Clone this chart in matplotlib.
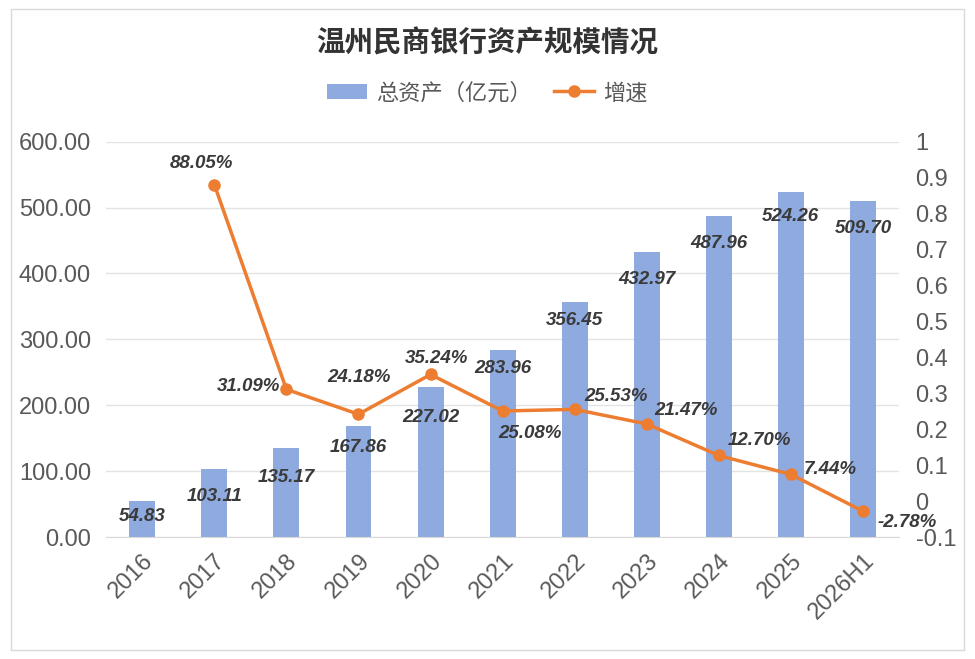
import matplotlib.pyplot as plt
from matplotlib.ticker import FuncFormatter, MultipleLocator
from matplotlib.patches import Rectangle

plt.rcParams['font.family'] = ['Liberation Sans', 'Noto Sans CJK SC', 'DejaVu Sans']

years = ["2016", "2017", "2018", "2019", "2020", "2021", "2022", "2023", "2024", "2025", "2026H1"]
assets = [54.83, 103.11, 135.17, 167.86, 227.02, 283.96, 356.45, 432.97, 487.96, 524.26, 509.70]
growth = [None, 0.8805, 0.3109, 0.2418, 0.3524, 0.2508, 0.2553, 0.2147, 0.1270, 0.0744, -0.0278]

# label offsets (points)
bar_offsets = [-11.5, -20, -21.5, -15, -21.5, -13.5, -13.5, -20, -20, -18, -19.5]
growth_offsets = [None, (-9.5, 15), (-27.5, 2), (0, 26.5), (4.5, 11.5), (20, -16.5), (29.5, 9.5),
                  (28, 9.5), (29, 11), (28, 3.5), (31.5, -8.5)]

bar_color = "#8EAADF"
line_color = "#ED7D31"
text_color = "#595959"
label_color = "#3A3A3A"

fig = plt.figure(figsize=(9.75, 6.59), dpi=100)
fig.patches.append(Rectangle((0.011, 0.014), 0.978, 0.972, transform=fig.transFigure,
                             fill=False, edgecolor="#D9D9D9", linewidth=1))
ax = fig.add_axes([0.109, 0.185, 0.813, 0.6])
ax2 = ax.twinx()

x = range(len(years))
ax.bar(x, assets, width=0.36, color=bar_color, zorder=2, label="总资产（亿元）")
for xi, v in zip(x, assets):
    ax.annotate(f"{v:.2f}", (xi, v), xytext=(0, bar_offsets[xi]), textcoords="offset points",
                ha="center", va="center", fontsize=13.5, fontweight="bold", style="italic",
                color=label_color, zorder=5)

gx = [i for i, g in enumerate(growth) if g is not None]
gy = [g for g in growth if g is not None]
ax2.plot(gx, gy, color=line_color, linewidth=2.5, marker="o", markersize=8, zorder=4, label="增速")
for xi, g in zip(gx, gy):
    ax2.annotate(f"{g * 100:.2f}%", (xi, g), xytext=growth_offsets[xi], textcoords="offset points",
                 ha="center", va="center", fontsize=13.5, fontweight="bold", style="italic",
                 color=label_color, zorder=5)

ax.set_xlim(-0.5, len(years) - 0.5)
ax.set_ylim(0, 600)
ax2.set_ylim(-0.1, 1.0)
ax.yaxis.set_major_locator(MultipleLocator(100))
ax2.yaxis.set_major_locator(MultipleLocator(0.1))
ax.yaxis.set_major_formatter(FuncFormatter(lambda v, p: f"{v:.2f}"))
ax2.yaxis.set_major_formatter(FuncFormatter(lambda v, p: f"{round(v, 1):g}"))

ax.set_xticks(list(x))
ax.set_xticklabels(years, rotation=45, ha="right", rotation_mode="anchor")
ax.grid(axis="y", color="#E3E3E3", linewidth=1, zorder=0)
ax.set_axisbelow(True)

for a in (ax, ax2):
    for s in a.spines.values():
        s.set_visible(False)
    a.tick_params(length=0, labelsize=17, colors=text_color)
ax.spines["bottom"].set_visible(True)
ax.spines["bottom"].set_color("#D9D9D9")
ax.tick_params(axis="x", pad=9)
ax.tick_params(axis="y", pad=11)
ax2.tick_params(axis="y", pad=12)

fig.text(0.5, 0.934, "温州民商银行资产规模情况", ha="center", va="center",
         fontsize=20.5, fontweight="bold", color="#333333")
h1, l1 = ax.get_legend_handles_labels()
h2, l2 = ax2.get_legend_handles_labels()
fig.legend(h1 + h2, l1 + l2, loc="center", bbox_to_anchor=(0.5, 0.858), ncol=2, frameon=False,
           fontsize=16, labelcolor=text_color, handlelength=1.8, handletextpad=0.4, columnspacing=1.0)

fig.savefig("out.png", dpi=100)
